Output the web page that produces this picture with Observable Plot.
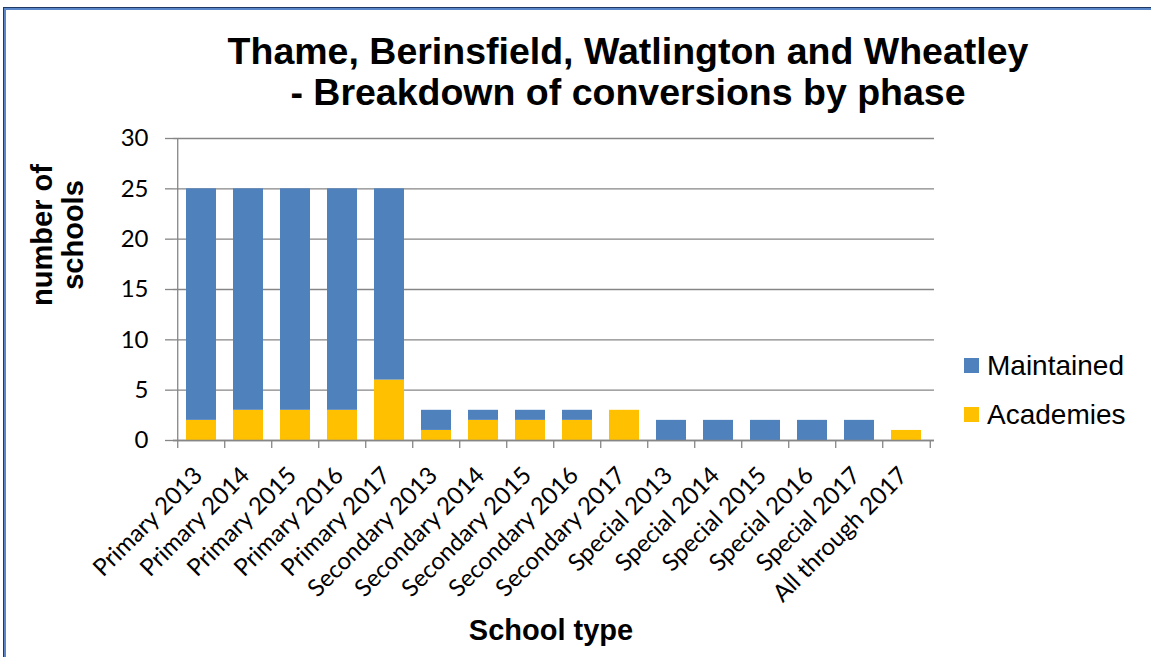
<!DOCTYPE html>
<html><head><meta charset="utf-8">
<script src="https://cdn.jsdelivr.net/npm/d3@7"></script>
<script src="https://cdn.jsdelivr.net/npm/@observablehq/plot@0.6"></script>
<style>
html,body{margin:0;padding:0;background:#fff;overflow:hidden}
#wrap{position:relative;width:1151px;height:657px;overflow:hidden;background:#fff}
#wrap svg{position:absolute;left:0;top:0}
#frame{position:absolute;left:3px;top:7px;width:1300px;height:800px;border-left:1px solid #1f3864;border-top:1px solid #1f3864;}
#frame2{position:absolute;left:4px;top:8px;width:1300px;height:800px;border-left:2px solid #5b87c8;border-top:2px solid #5b87c8;}
</style>
</head><body>
<div id="wrap"><div id="frame"></div><div id="frame2"></div></div>
<script>
const categories = ["Primary 2013","Primary 2014","Primary 2015","Primary 2016","Primary 2017",
  "Secondary 2013","Secondary 2014","Secondary 2015","Secondary 2016","Secondary 2017",
  "Special 2013","Special 2014","Special 2015","Special 2016","Special 2017","All through 2017"];
const academies  = [2,3,3,3,6, 1,2,2,2,3, 0,0,0,0,0, 1];
const maintained = [23,22,22,22,19, 2,1,1,1,0, 2,2,2,2,2, 0];
const series = ["Maintained","Academies"];
const colors = ["#4F81BD","#FFC000"];
const yTicks = [0,5,10,15,20,25,30];
const titleLines = ["Thame, Berinsfield, Watlington and Wheatley","- Breakdown of conversions by phase"];
const yTitleLines = ["number of","schools"];
const xTitle = "School type";

const rows = categories.flatMap((c,i) => [
  {category:c, series:"Academies", value:academies[i]},
  {category:c, series:"Maintained", value:maintained[i]}
]);

const W=1151, H=657, mL=173, mR=217, mT=138, mB=217;
const step = (W-mL-mR)/categories.length;
const grid = "#868686";
const tickFont = "Lato";

const chart = Plot.plot({
  width:W, height:H, marginLeft:mL, marginRight:mR, marginTop:mT, marginBottom:mB,
  style:{fontFamily:"Lato", fontSize:"24px", color:"#000", background:"transparent", overflow:"visible"},
  x:{domain:categories, paddingInner:0.355, paddingOuter:0.1775, label:null},
  y:{domain:[0,30], label:null},
  color:{domain:series, range:colors},
  marks:[
    Plot.gridY(yTicks,{stroke:grid, strokeOpacity:1, strokeWidth:1.3}),
    Plot.axisY(yTicks,{tickSize:8, tickPadding:17, stroke:grid, strokeWidth:1.3, fontSize:24, fontFamily:tickFont, label:null}),
    Plot.barY(rows,{x:"category", y:"value", fill:"series", order:["Academies","Maintained"]}),
    Plot.ruleY([0],{stroke:grid, strokeWidth:1.3}),
    Plot.ruleX([categories[0]],{y1:0, y2:30, dx:-step/2, stroke:grid, strokeWidth:1.3}),
    Plot.axisX({tickSize:8, text:null, dx:-step/2, stroke:grid, strokeWidth:1.3, label:null}),
    Plot.axisX([categories[categories.length-1]],{tickSize:8, text:null, dx:step/2, stroke:grid, strokeWidth:1.3, label:null}),
    Plot.axisX({tickSize:0, tickPadding:31, dx:-3, tickRotate:-45, fontSize:24, fontFamily:tickFont, label:null})
  ]
});
const wrap = document.getElementById("wrap");
wrap.appendChild(chart);

// overlay texts: title, axis titles, legend
const ov = d3.select(wrap).append("svg").attr("width",W).attr("height",H)
  .style("font-family","'Liberation Sans', Arial, sans-serif");
ov.selectAll("text.title").data(titleLines).join("text").attr("class","title")
  .attr("x",628).attr("y",(d,i)=>64+i*41).attr("text-anchor","middle")
  .attr("font-size",37.5).attr("font-weight","bold").text(d=>d);
ov.selectAll("text.ytitle").data(yTitleLines).join("text").attr("class","ytitle")
  .attr("transform",(d,i)=>`translate(${52+i*31},235) rotate(-90)`).attr("text-anchor","middle")
  .attr("font-size",29).attr("font-weight","bold").text(d=>d);
ov.append("text").attr("x",551).attr("y",640).attr("text-anchor","middle")
  .attr("font-size",29).attr("font-weight","bold").text(xTitle);
const lg = ov.selectAll("g.lg").data(series).join("g").attr("class","lg")
  .attr("transform",(d,i)=>`translate(964,${358+i*49})`);
lg.append("rect").attr("width",15).attr("height",15).attr("fill",(d,i)=>colors[i]);
lg.append("text").attr("x",23).attr("y",17).attr("font-size",28).text(d=>d);
</script>
</body></html>
